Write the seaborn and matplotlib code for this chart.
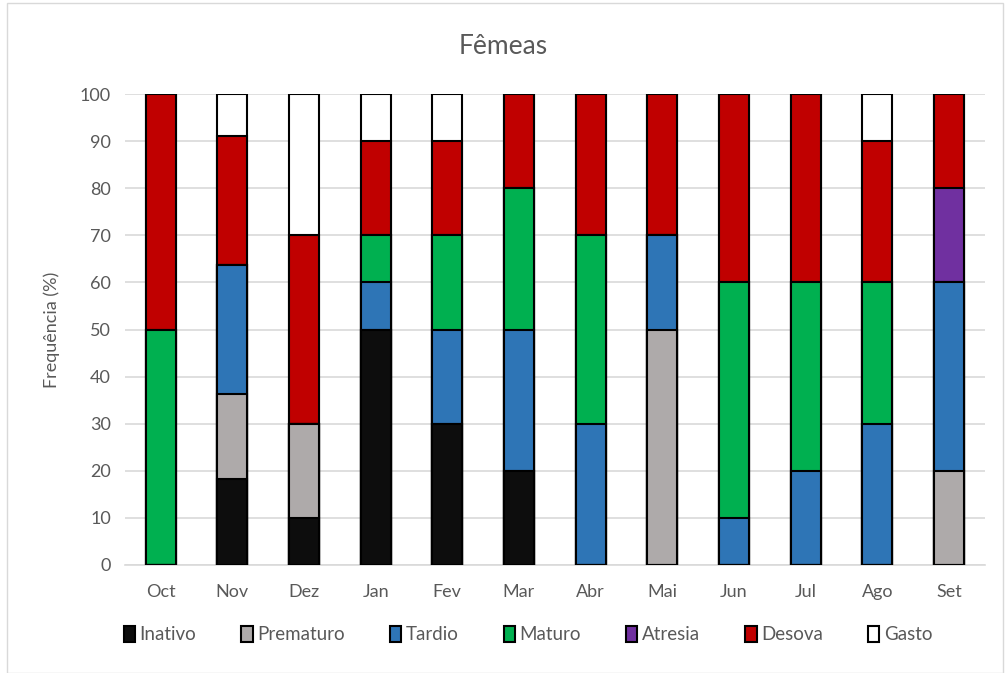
import matplotlib
matplotlib.use("Agg")
import matplotlib.pyplot as plt
import matplotlib.patches as mpatches
import numpy as np
import pandas as pd
import seaborn as sns

months = ['Oct', 'Nov', 'Dez', 'Jan', 'Fev', 'Mar', 'Abr', 'Mai', 'Jun', 'Jul', 'Ago', 'Set']

inativo   = [0, 18.2, 10, 50, 30, 20, 0, 0, 0, 0, 0, 0]
prematuro = [0, 18.2, 20, 0, 0, 0, 0, 50, 0, 0, 0, 20]
tardio    = [0, 27.3, 0, 10, 20, 30, 30, 20, 10, 20, 30, 40]
maturo    = [50, 0, 0, 10, 20, 30, 40, 0, 50, 40, 30, 0]
atresia   = [0, 0, 0, 0, 0, 0, 0, 0, 0, 0, 0, 20]
desova    = [50, 27.3, 40, 20, 20, 20, 30, 30, 40, 40, 30, 20]
gasto     = [0, 9.1, 30, 10, 10, 0, 0, 0, 0, 0, 10, 0]

stages = ['Inativo', 'Prematuro', 'Tardio', 'Maturo', 'Atresia', 'Desova', 'Gasto']
colors = ['#0d0d0d', '#aeaaaa', '#2e75b6', '#00b050', '#7030a0', '#c00000', '#ffffff']

df = pd.DataFrame({'Mes': months, 'Inativo': inativo, 'Prematuro': prematuro,
                   'Tardio': tardio, 'Maturo': maturo, 'Atresia': atresia,
                   'Desova': desova, 'Gasto': gasto})

sns.set_style("white")
plt.rcParams['font.family'] = ['Lato', 'DejaVu Sans']

fig = plt.figure(figsize=(10.06, 6.73), dpi=100)
ax = fig.add_axes([0.124, 0.1605, 0.855, 0.6998])

# cumulative totals, draw tallest first so each lower segment covers it
cum = df[stages].cumsum(axis=1)
for stage, c in reversed(list(zip(stages, colors))):
    sns.barplot(x=df['Mes'], y=cum[stage], color=c, saturation=1, width=0.42,
                edgecolor='black', linewidth=1.5, ax=ax, order=months, zorder=3)

ax.set_ylim(0, 100)
ax.set_yticks(range(0, 101, 10))
ax.yaxis.grid(True, color='#d9d9d9', linewidth=1.2, zorder=0)
ax.set_axisbelow(True)
for s in ['top', 'right', 'left']:
    ax.spines[s].set_visible(False)
ax.spines['bottom'].set_color('#d9d9d9')
ax.spines['bottom'].set_linewidth(1.2)
ax.tick_params(axis='y', length=0, labelsize=13, colors='#595959', pad=10)
ax.tick_params(axis='x', length=0, labelsize=13, colors='#595959', pad=14)
ax.set_xlabel('')
ax.set_ylabel('Frequência (%)', fontsize=13, color='#595959', labelpad=14)
fig.suptitle('Fêmeas', y=0.95, fontsize=19, color='#595959')

handles = [mpatches.Patch(facecolor=c, edgecolor='black', linewidth=1.5, label=s)
           for s, c in zip(stages, colors)]
fig.legend(handles=handles, loc='center', bbox_to_anchor=(0.525, 0.057), ncol=7,
           frameon=False, fontsize=13.5, handlelength=0.6, handleheight=0.9,
           handletextpad=0.25, columnspacing=2.4, labelcolor='#595959')

fig.patches.append(mpatches.Rectangle((0.007, 0.0), 0.99, 0.995, transform=fig.transFigure,
                                      fill=False, edgecolor='#d9d9d9', linewidth=1))

fig.savefig('out.png', dpi=100)
